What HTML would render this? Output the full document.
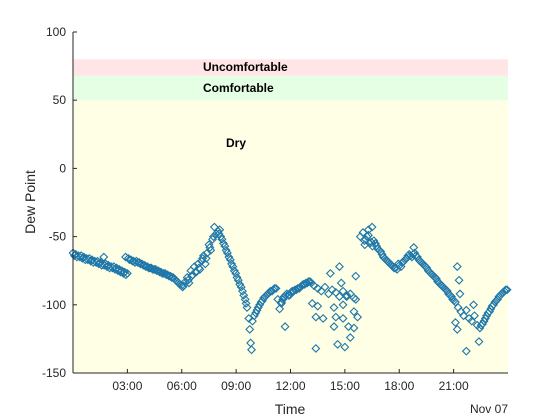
<!DOCTYPE html>
<html><head><meta charset="utf-8"><style>
body{margin:0;background:#fff;}
svg{display:block;font-family:"Liberation Sans",sans-serif;}
</style></head><body>
<svg id="chart" width="560" height="420" viewBox="0 0 560 420">
<g id="bands"></g>
<g id="marks"></g>
<g id="axes"></g>
<text x="290" y="414" text-anchor="middle" font-size="14" fill="#262626">Time</text>
<text x="508" y="413" text-anchor="end" font-size="12" fill="#262626">Nov 07</text>
<text transform="translate(35,202) rotate(-90)" text-anchor="middle" font-size="14" fill="#262626">Dew Point</text>
</svg>
<script>
const bandNames = ["Dry","Comfortable","Uncomfortable"];
const bandLow = [-150,50,68];
const bandHigh = [50,68,80];
const bandColors = ["#ffffe5","#e5ffe5","#ffe5e5"];
const yTicks = [-150,-100,-50,0,50,100];
const xTickHours = [3,6,9,12,15,18,21];
const xTickLabels = ["03:00","06:00","09:00","12:00","15:00","18:00","21:00"];
const hours = [
0,0.15,0.3,0.45,0.6,0.75,0.9,1.05,1.2,1.35,1.5,1.65,1.8,1.95,2.1,2.25,2.4,2.55,2.7,2.85,3.0,1.7,
2.9,3.05,3.2,3.35,3.5,3.65,3.8,3.95,4.1,4.25,4.4,4.55,4.7,4.85,5.0,5.15,5.3,5.45,5.6,5.75,5.9,6.05,
6.1,6.3,6.4,6.5,6.6,6.7,6.8,6.9,7.0,7.1,7.2,7.3,7.4,7.5,7.6,7.7,7.8,7.9,8.0,8.1,
8.15,8.3,8.45,8.6,8.75,8.9,9.05,9.2,9.35,9.5,9.6,9.7,9.75,9.8,9.85,9.9,
10.0,10.15,10.3,10.45,10.6,10.75,10.9,11.05,11.2,11.3,11.4,11.5,11.7,
11.5,11.65,11.8,11.95,12.1,12.25,12.4,12.55,12.7,12.85,13.0,13.15,
13.3,13.5,13.7,13.9,14.1,14.3,14.5,14.7,14.9,15.1,15.3,15.5,
14.2,14.7,15.6,14.8,13.2,13.5,13.4,13.8,14.4,14.5,14.9,15.1,15.5,15.7,15.2,14.4,13.4,14.6,15.0,15.3,15.6,14.9,15.5,
15.85,16.0,16.15,16.3,16.45,16.6,16.75,16.9,17.05,17.2,17.35,17.5,17.65,17.8,17.95,18.1,18.25,18.4,18.55,18.7,18.85,19.0,
19.15,19.3,19.45,19.6,19.75,19.9,20.05,20.2,20.35,20.5,20.65,20.8,20.95,21.1,21.25,21.4,21.55,21.7,21.85,22.0,22.15,22.3,
22.45,22.6,22.75,22.9,23.05,23.2,23.35,23.5,23.65,23.8,23.95,
16.5,16.1,16.3,18.8,21.2,21.3,21.35,21.7,22.4,22.1,21.1,21.2,
0.08,0.22,0.38,0.52,0.68,0.82,0.98,1.12,1.28,1.42,1.58,1.72,1.88,2.02,2.18,2.32,2.48,2.62,2.78,2.92,
3.12,3.28,3.42,3.58,3.72,3.88,4.02,4.18,4.32,4.48,4.62,4.78,4.92,5.08,5.22,5.38,5.52,5.68,5.82,5.98,
6.2,6.35,6.55,6.75,6.95,7.15,7.35,7.55,7.75,8.05,8.22,8.38,8.52,8.68,8.82,8.98,9.12,9.28,9.42,9.55,
10.08,10.22,10.38,10.52,10.68,10.82,10.98,11.12,11.58,11.72,11.88,12.02,12.18,12.32,12.48,12.62,12.78,12.92,13.08,
16.08,16.22,16.38,16.52,16.68,16.82,16.98,17.12,17.28,17.42,17.58,17.72,17.88,18.02,18.18,18.32,18.48,18.62,18.78,18.92,
19.08,19.22,19.38,19.52,19.68,19.82,19.98,20.12,20.28,20.42,20.58,20.72,20.88,21.02,
22.52,22.68,22.82,22.98,23.12,23.28,23.42,23.58,23.72,23.88
];
const dewPoints = [
-62,-63,-64,-64,-65,-66,-66,-67,-68,-68,-69,-70,-70,-71,-72,-72,-73,-74,-75,-76,-77,-65,
-65,-66,-67,-68,-68,-69,-70,-71,-72,-73,-74,-74,-75,-76,-77,-78,-79,-80,-81,-83,-85,-87,
-86,-80,-84,-75,-78,-72,-76,-70,-74,-68,-64,-70,-62,-56,-60,-52,-43,-48,-46,-45,
-50,-55,-60,-65,-70,-75,-80,-85,-90,-96,-102,-110,-118,-128,-133,-112,
-108,-104,-100,-97,-94,-92,-90,-89,-88,-96,-103,-99,-116,
-98,-94,-92,-93,-90,-89,-88,-87,-85,-84,-83,-84,
-86,-88,-90,-87,-92,-89,-91,-94,-90,-93,-92,-95,
-77,-72,-79,-84,-99,-101,-109,-110,-102,-109,-100,-94,-105,-109,-116,-116,-132,-129,-131,-124,-96,-110,-117,
-50,-47,-52,-49,-54,-53,-57,-60,-63,-66,-68,-70,-72,-73,-70,-72,-68,-66,-63,-65,-62,-65,
-68,-70,-72,-75,-77,-79,-81,-84,-86,-88,-90,-93,-96,-98,-102,-105,-108,-104,-110,-112,-108,-115,
-117,-114,-110,-106,-103,-100,-97,-94,-92,-90,-89,
-43,-56,-45,-58,-72,-82,-92,-134,-127,-100,-113,-118,
-64,-65,-65,-66,-67,-67,-68,-69,-69,-70,-71,-71,-72,-73,-73,-74,-75,-76,-77,-78,
-67,-68,-69,-69,-70,-71,-72,-73,-73,-74,-75,-76,-77,-77,-78,-79,-80,-82,-84,-86,
-83,-82,-79,-76,-73,-66,-66,-58,-50,-48,-52,-57,-62,-67,-72,-77,-82,-87,-93,-99,
-106,-102,-98,-95,-93,-91,-90,-88,-96,-93,-93,-91,-90,-89,-88,-86,-85,-84,-83,
-53,-50,-55,-57,-55,-59,-61,-65,-67,-69,-71,-73,-74,-71,-69,-67,-64,-64,-63,-64,
-67,-69,-71,-73,-76,-78,-80,-83,-85,-87,-89,-92,-94,-97,
-115,-112,-108,-105,-101,-98,-96,-93,-91,-89
];
const NS="http://www.w3.org/2000/svg";
const X0=73,X1=508,Y0=32,Y1=373;
const xs=h=>X0+(h/24)*(X1-X0);
const ys=v=>Y0+(100-v)/250*(Y1-Y0);
function mk(tag,attrs,parent){const e=document.createElementNS(NS,tag);for(const k in attrs)e.setAttribute(k,attrs[k]);parent.appendChild(e);return e;}
const bands=document.getElementById('bands'),marks=document.getElementById('marks'),axes=document.getElementById('axes');
bandNames.forEach((n,i)=>{
  const r=mk('rect',{x:X0,y:ys(bandHigh[i]),width:X1-X0,height:ys(bandLow[i])-ys(bandHigh[i]),fill:bandColors[i]},bands);
  
  
});
const labelPos=[[236,147,"middle"],[203,92,"start"],[203,71,"start"]];
bandNames.forEach((n,i)=>{
  const t=mk('text',{x:labelPos[i][0],y:labelPos[i][1],'text-anchor':labelPos[i][2],'font-size':'12','font-weight':'bold',fill:'#000'},bands);
  t.textContent=n;
  
  
});
hours.forEach((h,i)=>{
  const cx=xs(h),cy=ys(dewPoints[i]),s=3.7;
  const p=mk('polygon',{points:`${cx},${cy-s} ${cx+s},${cy} ${cx},${cy+s} ${cx-s},${cy}`,fill:'none',stroke:'#1f77aa','stroke-width':'1.1'},marks);
  
  
});
const ya=mk('line',{x1:X0,y1:Y0,x2:X0,y2:Y1,stroke:'#262626'},axes);


const xa=mk('line',{x1:X0,y1:Y1,x2:X1,y2:Y1,stroke:'#262626'},axes);


yTicks.forEach(v=>{
  const y=ys(v);
  mk('line',{x1:X0,y1:y,x2:X0+4,y2:y,stroke:'#262626'},axes);
  const t=mk('text',{x:X0-7,y:y+4,'text-anchor':'end','font-size':'12',fill:'#262626'},axes);
  t.textContent=v;
  
  
});
xTickHours.forEach((h,i)=>{
  const x=xs(h);
  mk('line',{x1:x,y1:Y1,x2:x,y2:Y1-4,stroke:'#262626'},axes);
  const t=mk('text',{x:x,y:390,'text-anchor':'middle','font-size':'12',fill:'#262626'},axes);
  t.textContent=xTickLabels[i];
  
  
});
</script>
</body></html>
